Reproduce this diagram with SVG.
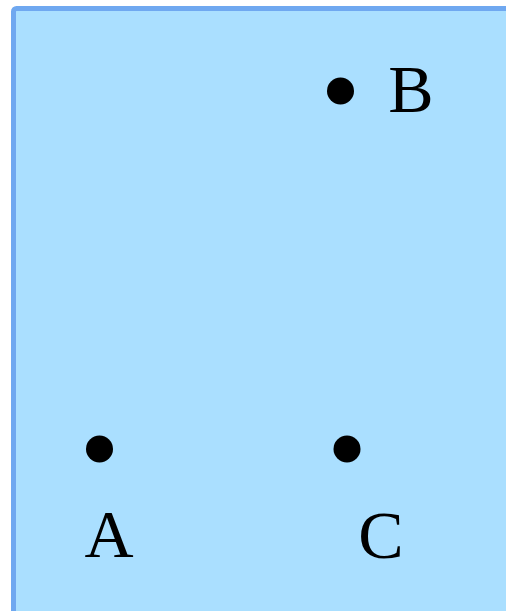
<svg xmlns="http://www.w3.org/2000/svg" width="506" height="611" viewBox="0 0 506 611">
<style>
.lbl{font-family:"Liberation Serif","DejaVu Serif",serif;font-size:68px;fill:#000;text-anchor:middle}
.dot{fill:#000}
</style>
<rect x="13.5" y="8.5" width="520" height="640" rx="3" fill="#aadfff" stroke="#6fa8f0" stroke-width="5"/>
<g id="B"><circle class="dot" cx="340.5" cy="91" r="13.5"/><text class="lbl" x="411" y="112">B</text></g>
<g id="A"><circle class="dot" cx="99.5" cy="449" r="13.5"/><text class="lbl" x="109" y="557">A</text></g>
<g id="C"><circle class="dot" cx="347" cy="449" r="13.5"/><text class="lbl" x="381" y="558">C</text></g>
<g id="connectors"></g>
</svg>
